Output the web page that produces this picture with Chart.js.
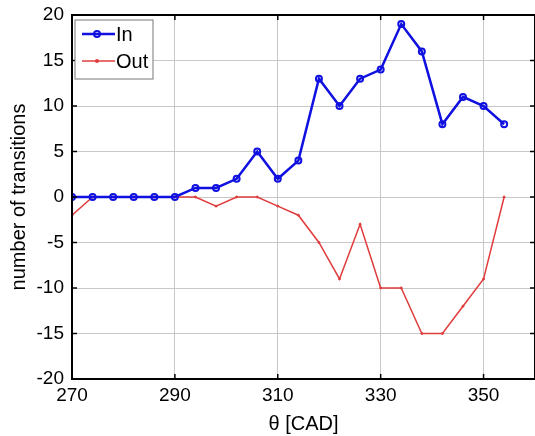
<!DOCTYPE html>
<html>
<head>
<meta charset="utf-8">
<script src="https://cdn.jsdelivr.net/npm/chart.js@4/dist/chart.umd.min.js"></script>
<style>
  body { margin: 0; background: #fff; }
  canvas { display: block; }
</style>
</head>
<body>
<canvas id="grafico" width="535" height="436"></canvas>
<script>
// dados
const angulos = [270, 274, 278, 282, 286, 290, 294, 298, 302, 306, 310, 314, 318, 322, 326, 330, 334, 338, 342, 346, 350, 354];
const entradas = [0, 0, 0, 0, 0, 0, 1, 1, 2, 5, 2, 4, 13, 10, 13, 14, 19, 16, 8, 11, 10, 8];
const saidas = [-2, 0, 0, 0, 0, 0, 0, -1, 0, 0, -1, -2, -5, -9, -3, -10, -10, -15, -15, -12, -9, 0];
const ticksX = [270, 290, 310, 330, 350];
const ticksY = [-20, -15, -10, -5, 0, 5, 10, 15, 20];

const fonte = "'Liberation Sans', Arial, Helvetica, sans-serif";
const azul = '#1010e0';
const vermelho = '#e03c3c';

// moldura, marcas internas e legenda no estilo MATLAB
const moldura = {
    id: 'moldura',
    afterDatasetsDraw(chart) {
        const { ctx, chartArea: a, scales } = chart;
        ctx.save();
        ctx.strokeStyle = '#000';
        ctx.lineWidth = 1.5;
        ctx.beginPath();
        ticksX.forEach(v => {
            const x = scales.x.getPixelForValue(v);
            ctx.moveTo(x, a.bottom); ctx.lineTo(x, a.bottom - 5);
            ctx.moveTo(x, a.top); ctx.lineTo(x, a.top + 5);
        });
        ticksY.forEach(v => {
            const y = scales.y.getPixelForValue(v);
            ctx.moveTo(a.left, y); ctx.lineTo(a.left + 5, y);
            ctx.moveTo(a.right, y); ctx.lineTo(a.right - 5, y);
        });
        ctx.stroke();
        ctx.lineWidth = 2;
        ctx.strokeRect(a.left, a.top, a.right - a.left, a.bottom - a.top);

        // legenda
        const lx = a.left + 3, ly = a.top + 5, lw = 78, lh = 59;
        ctx.fillStyle = '#fff';
        ctx.fillRect(lx, ly, lw, lh);
        ctx.strokeStyle = '#777';
        ctx.lineWidth = 1;
        ctx.strokeRect(lx, ly, lw, lh);
        const itens = [
            { txt: 'In', cor: azul, larg: 2.5, raio: 3 },
            { txt: 'Out', cor: vermelho, larg: 1.5, raio: 1 }
        ];
        itens.forEach((it, i) => {
            const y = ly + 14 + i * 27;
            ctx.strokeStyle = it.cor;
            ctx.lineWidth = it.larg;
            ctx.beginPath();
            ctx.moveTo(lx + 7, y); ctx.lineTo(lx + 40, y);
            ctx.stroke();
            ctx.beginPath();
            ctx.arc(lx + 22, y, it.raio, 0, Math.PI * 2);
            ctx.lineWidth = 2;
            ctx.stroke();
            ctx.fillStyle = '#000';
            ctx.font = '20px ' + fonte;
            ctx.textBaseline = 'middle';
            ctx.fillText(it.txt, lx + 41, y + 1);
        });
        ctx.restore();
    }
};

function inicializarGrafico() {
    const ctx = document.getElementById('grafico').getContext('2d');
    new Chart(ctx, {
        type: 'line',
        data: {
            labels: angulos,
            datasets: [
                {
                    label: 'In',
                    data: angulos.map((a, i) => ({ x: a, y: entradas[i] })),
                    borderColor: azul,
                    borderWidth: 2.5,
                    pointRadius: 3,
                    pointBorderWidth: 2,
                    pointBorderColor: azul,
                    pointBackgroundColor: 'rgba(0,0,0,0)',
                    tension: 0,
                    order: 1
                },
                {
                    label: 'Out',
                    data: angulos.map((a, i) => ({ x: a, y: saidas[i] })),
                    borderColor: vermelho,
                    borderWidth: 1.5,
                    pointRadius: 1,
                    pointBorderWidth: 1,
                    pointBorderColor: vermelho,
                    pointBackgroundColor: vermelho,
                    tension: 0,
                    order: 2
                }
            ]
        },
        options: {
            responsive: false,
            animation: false,
            layout: { autoPadding: false, padding: { top: 15, right: 0, left: 0, bottom: 0 } },
            plugins: { legend: { display: false }, tooltip: { enabled: false } },
            scales: {
                x: {
                    type: 'linear',
                    min: 270,
                    max: 360,
                    afterBuildTicks: s => { s.ticks = ticksX.map(v => ({ value: v })); },
                    afterFit: s => { s.height = 57; },
                    grid: { color: '#c8c8c8', lineWidth: 1, drawTicks: true, tickLength: 5, tickColor: 'rgba(0,0,0,0)' },
                    border: { display: false },
                    ticks: { color: '#000', font: { size: 19, family: fonte }, padding: 0, maxRotation: 0 },
                    title: { display: true, text: 'θ [CAD]', color: '#000', font: { size: 20, family: fonte }, padding: { top: 0, bottom: 0 } }
                },
                y: {
                    min: -20,
                    max: 20,
                    afterBuildTicks: s => { s.ticks = ticksY.map(v => ({ value: v })); },
                    afterFit: s => { s.width = 72; },
                    grid: { color: '#c8c8c8', lineWidth: 1, drawTicks: true, tickLength: 8, tickColor: 'rgba(0,0,0,0)' },
                    border: { display: false },
                    ticks: { color: '#000', font: { size: 19, family: fonte }, padding: 0 },
                    title: { display: true, text: 'number of transitions', color: '#000', font: { size: 20, family: fonte }, padding: { top: 7, bottom: 0 } }
                }
            }
        },
        plugins: [moldura]
    });
}

window.onload = inicializarGrafico;
</script>
</body>
</html>
